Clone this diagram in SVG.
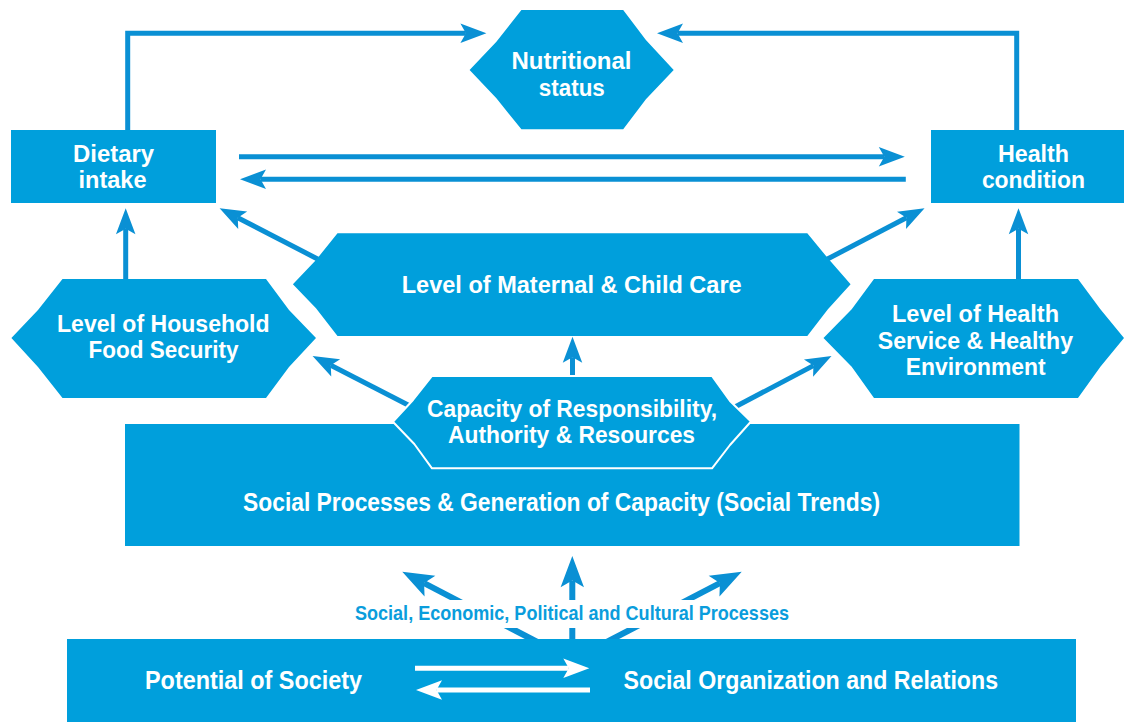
<svg xmlns="http://www.w3.org/2000/svg" width="1126" height="722" viewBox="0 0 1126 722">
<defs>
<style>
.node{fill:#009fdc}
.cap{fill:#009fdc;stroke:#fff;stroke-width:2;stroke-linejoin:round}
.lbl{font-family:"Liberation Sans",Arial,sans-serif;font-weight:bold;fill:#fff;text-anchor:middle}
.conn{stroke:#0a90d4;stroke-width:5;fill:none;marker-end:url(#ah)}
.fan{stroke:#0a90d4;stroke-width:6;fill:none;marker-end:url(#ah)}
.wconn{stroke:#fff;stroke-width:5;fill:none;marker-end:url(#wah)}
.plbl{font-family:"Liberation Sans",Arial,sans-serif;font-weight:bold;fill:#0a9ddc;text-anchor:middle}
</style>
<marker id="ah" markerUnits="strokeWidth" markerWidth="10" markerHeight="10" refX="0" refY="0" orient="auto" overflow="visible">
<path d="M4.1,0 L-1.1,-1.95 L0,0 L-1.1,1.95 Z" fill="#0a90d4"/>
</marker>
<marker id="wah" markerUnits="strokeWidth" markerWidth="10" markerHeight="10" refX="0" refY="0" orient="auto" overflow="visible">
<path d="M4.1,0 L-1.1,-1.95 L0,0 L-1.1,1.95 Z" fill="#fff"/>
</marker>
</defs>
<rect width="1126" height="722" fill="#fff"/>

<g id="connectors">
<path class="conn" d="M127.7,135 V33.2 H465.9"/>
<path class="conn" d="M1016.7,135 V33.2 H677.5"/>
<path class="conn" d="M239,156.8 H884.3"/>
<path class="conn" d="M905.8,179.2 H260.5"/>
<path class="conn" d="M125.7,285 V228.8"/>
<path class="conn" d="M318,259.2 L237.8,217.7"/>
<path class="conn" d="M826,259.8 L906.4,217.8"/>
<path class="conn" d="M1018.5,285 V228.8"/>
<path class="conn" d="M572.5,380 V357.2"/>
<path class="conn" d="M412,407 L330.8,365.3"/>
<path class="conn" d="M733,408 L813.4,365.6"/>
<path class="fan" d="M552.7,650 L424.1,583.1"/>
<path class="fan" d="M572.3,650 V580.6"/>
<path class="fan" d="M591.3,650 L719.9,583.1"/>
<rect x="350" y="600" width="444" height="28" fill="#fff"/>
<text class="plbl" x="572" y="620" font-size="20.5" textLength="434" lengthAdjust="spacingAndGlyphs">Social, Economic, Political and Cultural Processes</text>
</g>

<g id="nutritional-status">
<polygon class="node" points="521.4,10 623.2,10 645.9,40 673.7,70 645.9,99.3 623.2,129.3 521.4,129.3 496.4,98.3 469.6,70 496.4,41.7"/>
<text class="lbl" x="571.5" y="69" font-size="24.5" textLength="120" lengthAdjust="spacingAndGlyphs">Nutritional</text>
<text class="lbl" x="571.8" y="95.5" font-size="24.5" textLength="66" lengthAdjust="spacingAndGlyphs">status</text>
</g>

<g id="dietary-intake">
<rect class="node" x="11" y="130" width="205" height="73"/>
<text class="lbl" x="113.5" y="161.5" font-size="24.5" textLength="81" lengthAdjust="spacingAndGlyphs">Dietary</text>
<text class="lbl" x="112.5" y="188" font-size="24.5" textLength="68" lengthAdjust="spacingAndGlyphs">intake</text>
</g>

<g id="health-condition">
<rect class="node" x="931" y="130" width="193" height="73"/>
<text class="lbl" x="1033.5" y="161.5" font-size="24.5" textLength="71" lengthAdjust="spacingAndGlyphs">Health</text>
<text class="lbl" x="1033.4" y="188" font-size="24.5" textLength="103" lengthAdjust="spacingAndGlyphs">condition</text>
</g>

<g id="maternal-child-care">
<polygon class="node" points="337.5,233.3 807.3,233.3 827.9,258.3 850.6,284.3 827.9,309.3 807.3,336 337.5,336 316,308.3 292.9,284.3 316,260"/>
<text class="lbl" x="571.7" y="293.3" font-size="24.5" textLength="340" lengthAdjust="spacingAndGlyphs">Level of Maternal &amp; Child Care</text>
</g>

<g id="household-food-security">
<polygon class="node" points="62.5,279 266,279 289,310 316,338 289,367 266,398 62.5,398 38,367 11.4,338 38,310"/>
<text class="lbl" x="163.3" y="331.7" font-size="24.5" textLength="212.6" lengthAdjust="spacingAndGlyphs">Level of Household</text>
<text class="lbl" x="163.6" y="358.3" font-size="24.5" textLength="150" lengthAdjust="spacingAndGlyphs">Food Security</text>
</g>

<g id="health-service">
<polygon class="node" points="874,279 1078,279 1100.4,309.3 1124,338 1100.4,366.7 1078,398 874,398 851.7,366.7 823.5,338 851.7,309.3"/>
<text class="lbl" x="975.5" y="321.7" font-size="24" textLength="167" lengthAdjust="spacingAndGlyphs">Level of Health</text>
<text class="lbl" x="975.4" y="349.3" font-size="24" textLength="195.3" lengthAdjust="spacingAndGlyphs">Service &amp; Healthy</text>
<text class="lbl" x="975.7" y="375" font-size="24" textLength="139.8" lengthAdjust="spacingAndGlyphs">Environment</text>
</g>

<g id="social-processes">
<rect class="node" x="125" y="424" width="894.5" height="122"/>
<text class="lbl" x="561.5" y="511" font-size="26" textLength="637" lengthAdjust="spacingAndGlyphs">Social Processes &amp; Generation of Capacity (Social Trends)</text>
</g>

<g id="capacity">
<polygon class="cap" points="432,376 712,376 730,401 751,421.5 730,445 712,468.3 432,468.3 414.3,444 392.9,421.7 413,400"/>
<text class="lbl" x="572" y="416.7" font-size="24" textLength="290" lengthAdjust="spacingAndGlyphs">Capacity of Responsibility,</text>
<text class="lbl" x="571.5" y="442.7" font-size="24" textLength="247" lengthAdjust="spacingAndGlyphs">Authority &amp; Resources</text>
</g>

<g id="society">
<rect class="node" x="67" y="639" width="1009" height="83"/>
<text class="lbl" x="253.5" y="689.3" font-size="26.5" textLength="217" lengthAdjust="spacingAndGlyphs">Potential of Society</text>
<text class="lbl" x="810.8" y="689.3" font-size="26.5" textLength="374.5" lengthAdjust="spacingAndGlyphs">Social Organization and Relations</text>
</g>

<g id="society-connectors">
<path class="wconn" d="M415,668.3 H568.8"/>
<path class="wconn" d="M590,690 H436.5"/>
</g>
</svg>
